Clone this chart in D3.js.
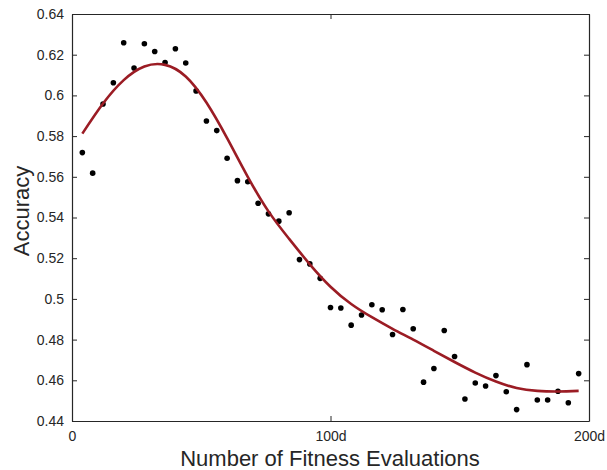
<!DOCTYPE html>
<html>
<head>
<meta charset="utf-8">
<script src="https://cdn.jsdelivr.net/npm/d3@7"></script>
<style>
  body { margin: 0; background: #fff; }
  svg text { font-family: "Liberation Sans", Arial, Helvetica, sans-serif; fill: #262626; }
</style>
</head>
<body>
<div id="chart"></div>
<script>
// scatter: accuracy per fitness-evaluation step
const evalX = [4, 8, 12, 16, 20, 24, 28, 32, 36, 40, 44, 48, 52, 56, 60, 64, 68, 72, 76, 80,
  84, 88, 92, 96, 100, 104, 108, 112, 116, 120, 124, 128, 132, 136, 140, 144, 148, 152, 156, 160,
  164, 168, 172, 176, 180, 184, 188, 192, 196];
const accuracy = [0.5719, 0.5618, 0.5958, 0.6062, 0.6259, 0.6135, 0.6254, 0.6216, 0.6162, 0.6229,
  0.6159, 0.6022, 0.5874, 0.5827, 0.5691, 0.5581, 0.5576, 0.5470, 0.5418, 0.5382,
  0.5423, 0.5193, 0.5172, 0.5101, 0.4958, 0.4955, 0.4871, 0.4921, 0.4971, 0.4947,
  0.4825, 0.4948, 0.4853, 0.4591, 0.4658, 0.4845, 0.4717, 0.4508, 0.4587, 0.4572,
  0.4623, 0.4544, 0.4456, 0.4677, 0.4503, 0.4503, 0.4546, 0.4490, 0.4633];

// fitted trend line
const fitX = [4, 12, 20, 28, 36, 44, 52, 60, 68, 76, 84, 92, 100, 108, 116, 124, 132, 140, 148,
  156, 164, 172, 180, 188, 196];
const fitY = [0.5812, 0.5960, 0.6075, 0.6142, 0.6150, 0.6093, 0.5965, 0.5790, 0.5600, 0.5430,
  0.5295, 0.5170, 0.5060, 0.4975, 0.4910, 0.4853, 0.4800, 0.4745, 0.4690, 0.4638,
  0.4594, 0.4562, 0.4548, 0.4545, 0.4548];

const xTicks = [0, 100, 200];
const xTickLabels = ["0", "100d", "200d"];
const yTicks = [0.44, 0.46, 0.48, 0.5, 0.52, 0.54, 0.56, 0.58, 0.6, 0.62, 0.64];

const margin = { top: 14, left: 72, right: 18, bottom: 49 };
const width = 607, height = 470;
const plotW = width - margin.left - margin.right;
const plotH = height - margin.top - margin.bottom;
const axisColor = "#262626";

const svg = d3.select("#chart").append("svg")
  .attr("width", width)
  .attr("height", height);
const g = svg.append("g")
  .attr("transform", "translate(" + margin.left + "," + margin.top + ")");

const x = d3.scaleLinear().domain([0, 200]).range([0, plotW]);
const y = d3.scaleLinear().domain([0.44, 0.64]).range([plotH, 0]);

// axes, MATLAB style: ticks inward on all four sides
const axBottom = g.append("g").attr("transform", "translate(0," + plotH + ")")
  .call(d3.axisBottom(x).tickValues(xTicks).tickSizeInner(-5).tickSizeOuter(0)
    .tickPadding(10).tickFormat((d, i) => xTickLabels[i]));
const axTop = g.append("g")
  .call(d3.axisTop(x).tickValues(xTicks).tickSizeInner(-5).tickSizeOuter(0).tickFormat(""));
const axLeft = g.append("g")
  .call(d3.axisLeft(y).tickValues(yTicks).tickSizeInner(-5).tickSizeOuter(0)
    .tickPadding(8).tickFormat(d3.format("")));
const axRight = g.append("g").attr("transform", "translate(" + plotW + ",0)")
  .call(d3.axisRight(y).tickValues(yTicks).tickSizeInner(-5).tickSizeOuter(0).tickFormat(""));

[axBottom, axTop, axLeft, axRight].forEach(function (a) {
  a.select(".domain").attr("stroke", axisColor).attr("stroke-width", 1.2);
  a.selectAll(".tick line").attr("stroke", axisColor);
  a.selectAll(".tick text").attr("font-size", 14).attr("fill", axisColor);
});

// points
g.selectAll("circle.pt")
  .data(evalX)
  .enter()
  .append("circle")
  .attr("class", "pt")
  .attr("cx", d => x(d))
  .attr("cy", (d, i) => y(accuracy[i]))
  .attr("r", 2.8)
  .attr("fill", "#000");

// trend line
const line = d3.line()
  .x(d => x(d[0]))
  .y(d => y(d[1]))
  .curve(d3.curveNatural);
g.append("path")
  .datum(fitX.map((d, i) => [d, fitY[i]]))
  .attr("d", line)
  .attr("fill", "none")
  .attr("stroke", "#9b1c24")
  .attr("stroke-width", 2.6);

// axis titles
svg.append("text")
  .attr("x", 330)
  .attr("y", 466)
  .attr("text-anchor", "middle")
  .attr("font-size", 22)
  .text("Number of Fitness Evaluations");
svg.append("text")
  .attr("transform", "translate(29,211) rotate(-90)")
  .attr("text-anchor", "middle")
  .attr("font-size", 22)
  .text("Accuracy");
</script>
</body>
</html>
